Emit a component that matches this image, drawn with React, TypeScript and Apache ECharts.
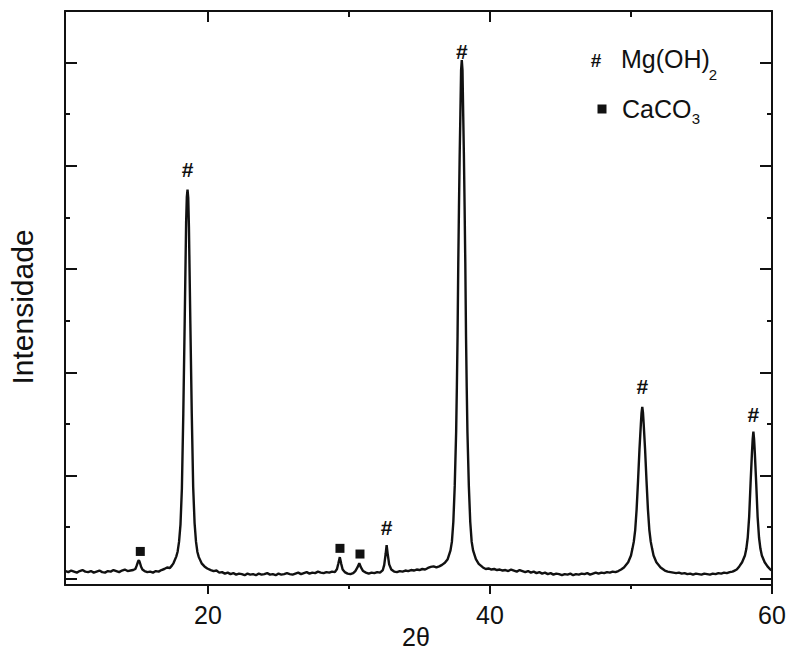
import React, { useEffect, useRef } from "react";
import * as echarts from "echarts";

// XRD pattern: [2θ (degrees), intensity (a.u.)]
const pattern: [number, number][] = [
  [9.9, 15], [10.1, 13], [10.3, 16], [10.5, 14], [10.7, 12], [10.9, 15], [11.1, 17], [11.3, 14], [11.5, 13], [11.7, 15],
  [11.9, 12], [12.1, 14], [12.3, 16], [12.5, 13], [12.7, 12], [12.9, 15], [13.1, 14], [13.3, 17], [13.5, 15], [13.7, 13],
  [13.9, 16], [14.1, 18], [14.3, 15], [14.5, 16], [14.7, 17],
  [14.85, 19], [14.95, 26], [15.05, 34], [15.1, 36], [15.15, 33], [15.25, 24], [15.35, 18], [15.5, 15],
  [15.7, 13], [15.9, 14], [16.1, 12], [16.3, 15], [16.5, 14], [16.7, 17], [16.9, 19], [17.1, 22], [17.3, 21], [17.45, 26],
  [17.55, 30], [17.75, 43], [17.85, 53], [17.95, 72], [18.05, 105], [18.15, 175], [18.25, 320], [18.35, 500], [18.45, 690],
  [18.5, 740], [18.55, 754], [18.6, 738], [18.65, 680], [18.75, 495], [18.85, 320], [18.95, 178], [19.05, 108], [19.15, 72],
  [19.25, 52], [19.35, 42], [19.55, 30], [19.75, 24], [19.95, 20],
  [20.2, 17], [20.4, 15], [20.6, 16], [20.8, 12], [21.0, 13], [21.2, 10], [21.4, 12], [21.6, 9], [21.8, 11], [22.0, 8],
  [22.2, 10], [22.4, 9], [22.6, 7], [22.8, 10], [23.0, 8], [23.2, 9], [23.4, 7], [23.6, 10], [23.8, 8], [24.0, 9],
  [24.2, 11], [24.4, 8], [24.6, 9], [24.8, 7], [25.0, 10], [25.2, 8], [25.4, 9], [25.6, 11], [25.8, 9], [26.0, 8],
  [26.2, 10], [26.4, 12], [26.6, 9], [26.8, 11], [27.0, 13], [27.2, 10], [27.4, 12], [27.6, 11], [27.8, 14], [28.0, 12],
  [28.2, 11], [28.4, 13], [28.6, 12], [28.8, 14], [29.0, 13],
  [29.15, 19], [29.25, 30], [29.35, 42], [29.45, 29], [29.55, 18], [29.7, 13], [29.9, 10], [30.1, 9], [30.3, 11],
  [30.45, 15], [30.6, 22], [30.73, 30], [30.85, 22], [31.0, 15], [31.2, 12], [31.4, 10], [31.6, 12], [31.8, 11],
  [32.0, 13], [32.2, 12], [32.4, 17], [32.5, 27], [32.6, 48], [32.67, 65], [32.75, 47], [32.85, 28], [33.0, 18],
  [33.2, 14], [33.4, 13], [33.6, 15], [33.8, 14], [34.0, 16], [34.2, 15], [34.4, 17], [34.6, 16], [34.8, 18], [35.0, 17],
  [35.2, 19], [35.4, 18], [35.6, 21], [35.8, 23], [36.0, 24], [36.2, 22], [36.4, 24], [36.6, 27], [36.8, 31],
  [37.0, 38], [37.2, 55], [37.3, 72], [37.4, 110], [37.5, 180], [37.6, 285], [37.65, 370], [37.7, 470], [37.75, 610],
  [37.8, 720], [37.85, 820], [37.9, 900], [37.95, 985], [38.0, 1005], [38.05, 985], [38.1, 900], [38.15, 820],
  [38.2, 720], [38.25, 610], [38.3, 470], [38.35, 370], [38.4, 285], [38.5, 180], [38.6, 110], [38.7, 72], [38.8, 55],
  [39.0, 38], [39.2, 29], [39.5, 22], [39.7, 19],
  [39.9, 20], [40.1, 18], [40.3, 19], [40.5, 17], [40.7, 18], [40.9, 16], [41.1, 17], [41.3, 15], [41.5, 18], [41.7, 16],
  [41.9, 14], [42.1, 17], [42.3, 15], [42.5, 13], [42.7, 15], [42.9, 12], [43.1, 14], [43.3, 11], [43.5, 13], [43.7, 10],
  [43.9, 12], [44.1, 9], [44.3, 11], [44.5, 8], [44.7, 10], [44.9, 9], [45.1, 7], [45.3, 9], [45.5, 8], [45.7, 10],
  [45.9, 7], [46.1, 9], [46.3, 8], [46.5, 10], [46.7, 9], [46.9, 11], [47.1, 8], [47.3, 10], [47.5, 12], [47.7, 10],
  [47.9, 12], [48.1, 11], [48.3, 13], [48.5, 12], [48.7, 14], [48.9, 13], [49.1, 15], [49.3, 18],
  [49.5, 22], [49.8, 32], [50.0, 45], [50.1, 58], [50.2, 72], [50.3, 95], [50.4, 135], [50.5, 190], [50.6, 250],
  [50.7, 300], [50.75, 322], [50.8, 333], [50.85, 322], [50.9, 300], [51.0, 250], [51.1, 190], [51.2, 135], [51.3, 95],
  [51.4, 72], [51.5, 58], [51.6, 45], [51.8, 32], [52.1, 22], [52.4, 16],
  [52.6, 14], [52.8, 13], [53.0, 12], [53.2, 11], [53.4, 12], [53.6, 10], [53.8, 11], [54.0, 9], [54.2, 10], [54.4, 8],
  [54.6, 10], [54.8, 9], [55.0, 8], [55.2, 10], [55.4, 9], [55.6, 8], [55.8, 10], [56.0, 9], [56.2, 11], [56.4, 10],
  [56.6, 12], [56.8, 11], [57.0, 13], [57.2, 14], [57.35, 16],
  [57.5, 18], [57.68, 24], [57.88, 32], [58.08, 45], [58.18, 58], [58.28, 80], [58.38, 120], [58.48, 185], [58.58, 245],
  [58.63, 270], [58.68, 285], [58.73, 270], [58.78, 245], [58.88, 185], [58.98, 120], [59.08, 80], [59.18, 58],
  [59.28, 45], [59.48, 32], [59.68, 24], [59.88, 18], [60.0, 16],
];

// Phase annotations (label positions in data units)
const mgOH2Marks: [number, number][] = [
  [18.55, 792], [32.67, 100], [38.0, 1021], [50.8, 372], [58.68, 319],
];
const caco3Marks: [number, number][] = [
  [15.2, 53], [29.36, 59], [30.78, 48],
];

const xMajorTicks = [20, 40, 60];
const xMinorTicks = [30, 50];
const yMajorTicks = [0, 200, 400, 600, 800, 1000];
const yMinorTicks = [100, 300, 500, 700, 900];

const X_MIN = 9.86;
const X_MAX = 60;
const Y_MIN = -12;
const Y_MAX = 1100;

const FONT = "'Liberation Sans', Arial, sans-serif";
const INK = "#111";

export default function App() {
  const ref = useRef<HTMLDivElement>(null);

  useEffect(() => {
    document.body.style.margin = "0";
    if (!ref.current) return;
    const chart = echarts.init(ref.current, null, { renderer: "svg" });

    const baseX = {
      type: "value" as const,
      min: X_MIN,
      max: X_MAX,
      splitLine: { show: false },
      axisLabel: { show: false },
    };
    const baseY = {
      type: "value" as const,
      min: Y_MIN,
      max: Y_MAX,
      splitLine: { show: false },
      axisLabel: { show: false },
    };
    const lineStyle = { color: INK, width: 2 };

    chart.setOption({
      animation: false,
      backgroundColor: "#fff",
      grid: {
        left: 65,
        right: 15,
        top: 11,
        bottom: 67,
        containLabel: false,
        outerBoundsMode: "none",
      },
      xAxis: [
        {
          ...baseX,
          position: "bottom",
          axisLine: { show: true, onZero: false, lineStyle },
          axisTick: { show: true, inside: false, length: 9, customValues: xMajorTicks, lineStyle },
          axisLabel: {
            show: true,
            customValues: xMajorTicks,
            fontSize: 25,
            margin: 17,
            color: INK,
            fontFamily: FONT,
          },
        },
        {
          ...baseX,
          position: "top",
          axisLine: { show: true, onZero: false, lineStyle },
          axisTick: { show: true, inside: true, length: 11, customValues: xMajorTicks, lineStyle },
        },
        {
          ...baseX,
          position: "bottom",
          offset: 0,
          axisLine: { show: false, onZero: false },
          axisTick: { show: true, inside: false, length: 4, customValues: xMinorTicks, lineStyle },
        },
        {
          ...baseX,
          position: "top",
          offset: 0,
          axisLine: { show: false, onZero: false },
          axisTick: { show: true, inside: true, length: 6, customValues: xMinorTicks, lineStyle },
        },
      ],
      yAxis: [
        {
          ...baseY,
          position: "left",
          axisLine: { show: true, onZero: false, lineStyle },
          axisTick: { show: true, inside: true, length: 12, customValues: yMajorTicks, lineStyle },
        },
        {
          ...baseY,
          position: "right",
          axisLine: { show: true, onZero: false, lineStyle },
          axisTick: { show: true, inside: true, length: 12, customValues: yMajorTicks, lineStyle },
        },
        {
          ...baseY,
          position: "left",
          offset: 0,
          axisLine: { show: false, onZero: false },
          axisTick: { show: true, inside: true, length: 5, customValues: yMinorTicks, lineStyle },
        },
        {
          ...baseY,
          position: "right",
          offset: 0,
          axisLine: { show: false, onZero: false },
          axisTick: { show: true, inside: true, length: 5, customValues: yMinorTicks, lineStyle },
        },
      ],
      series: [
        {
          type: "line",
          name: "XRD",
          xAxisIndex: 0,
          yAxisIndex: 0,
          data: pattern,
          showSymbol: false,
          symbol: "none",
          smooth: false,
          lineStyle: { color: INK, width: 2.4 },
          z: 3,
        },
        {
          type: "scatter",
          name: "Mg(OH)2",
          xAxisIndex: 0,
          yAxisIndex: 0,
          data: mgOH2Marks,
          symbolSize: 1,
          itemStyle: { color: "rgba(0,0,0,0)", opacity: 1 },
          label: {
            show: true,
            position: "inside",
            formatter: "#",
            fontSize: 21,
            fontWeight: "bold",
            color: INK,
            fontFamily: FONT,
          },
          z: 4,
        },
        {
          type: "scatter",
          name: "CaCO3",
          xAxisIndex: 0,
          yAxisIndex: 0,
          data: caco3Marks,
          symbol: "rect",
          symbolSize: 9,
          itemStyle: { color: INK, opacity: 1 },
          z: 4,
        },
      ],
      graphic: [
        {
          type: "text",
          x: 22,
          y: 307,
          rotation: Math.PI / 2,
          style: {
            text: "Intensidade",
            fontSize: 30,
            fontFamily: FONT,
            fill: INK,
            align: "center",
            verticalAlign: "middle",
          },
        },
        {
          type: "text",
          x: 416,
          y: 637,
          style: {
            text: "2θ",
            fontSize: 25,
            fontFamily: FONT,
            fill: INK,
            align: "center",
            verticalAlign: "middle",
          },
        },
        {
          type: "text",
          x: 596,
          y: 60,
          style: {
            text: "#",
            fontSize: 19,
            fontWeight: "bold",
            fontFamily: FONT,
            fill: INK,
            align: "center",
            verticalAlign: "middle",
          },
        },
        {
          type: "text",
          x: 621,
          y: 59,
          style: { text: "Mg(OH)", fontSize: 25, fontFamily: FONT, fill: INK, align: "left", verticalAlign: "middle" },
        },
        {
          type: "text",
          x: 713,
          y: 74,
          style: { text: "2", fontSize: 15, fontFamily: FONT, fill: INK, align: "center", verticalAlign: "middle" },
        },
        {
          type: "rect",
          shape: { x: 597.5, y: 104.5, width: 9, height: 9 },
          style: { fill: INK },
        },
        {
          type: "text",
          x: 622,
          y: 109,
          style: { text: "CaCO", fontSize: 25, fontFamily: FONT, fill: INK, align: "left", verticalAlign: "middle" },
        },
        {
          type: "text",
          x: 696,
          y: 118,
          style: { text: "3", fontSize: 15, fontFamily: FONT, fill: INK, align: "center", verticalAlign: "middle" },
        },
      ],
    });

    return () => chart.dispose();
  }, []);

  return <div ref={ref} style={{ width: 787, height: 652 }} />;
}
